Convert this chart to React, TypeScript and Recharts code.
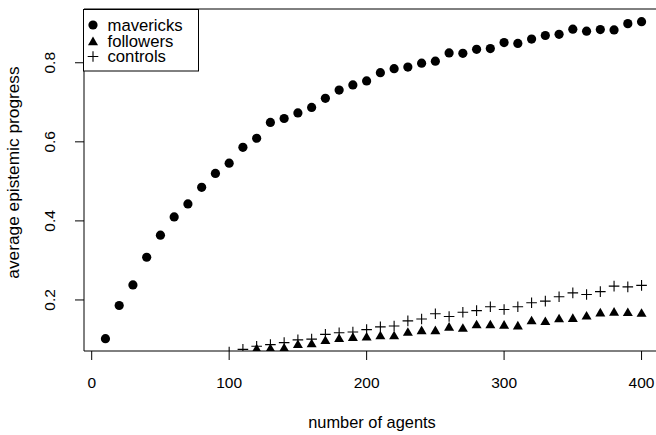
import React from 'react';
import {
  ScatterChart,
  Scatter,
  XAxis,
  YAxis,
  ReferenceArea,
  Label,
} from 'recharts';

// number of agents (x)
const agents = [
  10, 20, 30, 40, 50, 60, 70, 80, 90, 100, 110, 120, 130, 140, 150, 160, 170,
  180, 190, 200, 210, 220, 230, 240, 250, 260, 270, 280, 290, 300, 310, 320,
  330, 340, 350, 360, 370, 380, 390, 400,
];

const mavericks = [
  0.102, 0.186, 0.238, 0.308, 0.364, 0.41, 0.443, 0.485, 0.52, 0.546, 0.586,
  0.609, 0.649, 0.659, 0.673, 0.687, 0.71, 0.731, 0.744, 0.754, 0.775, 0.785,
  0.789, 0.799, 0.804, 0.825, 0.824, 0.834, 0.836, 0.851, 0.849, 0.86, 0.869,
  0.872, 0.885, 0.88, 0.884, 0.883, 0.899, 0.904,
];

// below the visible range for small groups
const followers = [
  null, null, null, null, null, null, null, null, null, null, null,
  0.078, 0.079, 0.08, 0.089, 0.091, 0.099, 0.104, 0.107, 0.108, 0.111, 0.111,
  0.12, 0.124, 0.124, 0.133, 0.13, 0.139, 0.139, 0.138, 0.136, 0.149, 0.147,
  0.154, 0.155, 0.161, 0.169, 0.171, 0.17, 0.168,
];

const controls = [
  null, null, null, null, null, null, null, null, null, 0.068, 0.075,
  0.083, 0.087, 0.092, 0.099, 0.101, 0.113, 0.117, 0.119, 0.125, 0.132, 0.134,
  0.147, 0.152, 0.165, 0.158, 0.169, 0.173, 0.183, 0.176, 0.183, 0.193, 0.197,
  0.208, 0.218, 0.214, 0.221, 0.235, 0.233, 0.237,
];

const seriesNames = ['mavericks', 'followers', 'controls'];

const xTicks = [0, 100, 200, 300, 400];
const yTicks = [0.2, 0.4, 0.6, 0.8];

const xDomain: [number, number] = [-5.6, 415.6];
const yDomain: [number, number] = [0.0709, 0.936];

const FONT = '"Liberation Sans", Arial, Helvetica, sans-serif';

const toPoints = (ys: (number | null)[]) =>
  agents
    .map((x, i) => ({ x, y: ys[i] }))
    .filter((d) => d.y !== null) as { x: number; y: number }[];

const mavData = toPoints(mavericks);
const folData = toPoints(followers);
const conData = toPoints(controls);

const Dot = ({ cx, cy }: any) => <circle cx={cx} cy={cy} r={4.6} fill="#000" />;

const Tri = ({ cx, cy }: any) => (
  <polygon
    points={`${cx},${cy - 4.4} ${cx - 5},${cy + 4.2} ${cx + 5},${cy + 4.2}`}
    fill="#000"
  />
);

const Plus = ({ cx, cy }: any) => (
  <path
    d={`M${cx - 5.3},${cy}H${cx + 5.3}M${cx},${cy - 5.3}V${cy + 5.3}`}
    stroke="#000"
    strokeWidth={1.1}
  />
);

const XTick = ({ x, payload }: any) => (
  <text x={x} y={388.3} textAnchor="middle" fontSize={15.5} fontFamily={FONT} fill="#000">
    {payload.value}
  </text>
);

const YTick = ({ y, payload }: any) => (
  <text
    x={55}
    y={y}
    transform={`rotate(-90, 55, ${y})`}
    textAnchor="middle"
    fontSize={15.5}
    fontFamily={FONT}
    fill="#000"
  >
    {payload.value}
  </text>
);

const LegendBox = () => (
  <svg width={117} height={63} style={{ display: 'block' }}>
    <rect x={0.5} y={0.5} width={115} height={61.5} fill="#fff" stroke="#000" />
    <Dot cx={10} cy={16} />
    <Tri cx={10} cy={32} />
    <Plus cx={10} cy={47.5} />
    <g fontSize={16.7} fontFamily={FONT} fill="#000">
      <text x={24.5} y={21.5}>{seriesNames[0]}</text>
      <text x={24.5} y={37.5}>{seriesNames[1]}</text>
      <text x={24.5} y={53}>{seriesNames[2]}</text>
    </g>
  </svg>
);

export default function App() {
  return (
    <div style={{ position: 'absolute', left: 0, top: 0, width: 656, height: 435, overflow: 'hidden' }}>
      <ScatterChart
        width={680}
        height={435}
        margin={{ top: 9, right: 17, bottom: 0, left: 0 }}
        style={{ fontFamily: FONT }}
      >
        <XAxis
          type="number"
          dataKey="x"
          domain={xDomain}
          ticks={xTicks}
          allowDataOverflow
          height={84}
          tickSize={9}
          axisLine={false}
          tickLine={{ stroke: '#000' }}
          tick={<XTick />}
          interval={0}
        >
          <Label
            content={() => (
              <text x={372} y={428.3} textAnchor="middle" fontSize={16.4} fontFamily={FONT} fill="#000">
                number of agents
              </text>
            )}
          />
        </XAxis>
        <YAxis
          type="number"
          dataKey="y"
          domain={yDomain}
          ticks={yTicks}
          allowDataOverflow
          width={84}
          tickSize={9}
          axisLine={false}
          tickLine={{ stroke: '#000' }}
          tick={<YTick />}
          interval={0}
        >
          <Label
            content={() => (
              <text
                x={18.5}
                y={172.5}
                transform="rotate(-90, 18.5, 172.5)"
                textAnchor="middle"
                fontSize={17.3}
                fontFamily={FONT}
                fill="#000"
              >
                average epistemic progress
              </text>
            )}
          />
        </YAxis>
        <ReferenceArea
          x1={xDomain[0]}
          x2={xDomain[1]}
          y1={yDomain[0]}
          y2={yDomain[1]}
          fill="none"
          stroke="#000"
          strokeWidth={1}
          fillOpacity={0}
          ifOverflow="visible"
        />
        <Scatter name={seriesNames[0]} data={mavData} shape={<Dot />} isAnimationActive={false} />
        <Scatter name={seriesNames[1]} data={folData} shape={<Tri />} isAnimationActive={false} />
        <Scatter name={seriesNames[2]} data={conData} shape={<Plus />} isAnimationActive={false} />
      </ScatterChart>
      <div style={{ position: 'absolute', left: 83, top: 9 }}>
        <LegendBox />
      </div>
    </div>
  );
}
